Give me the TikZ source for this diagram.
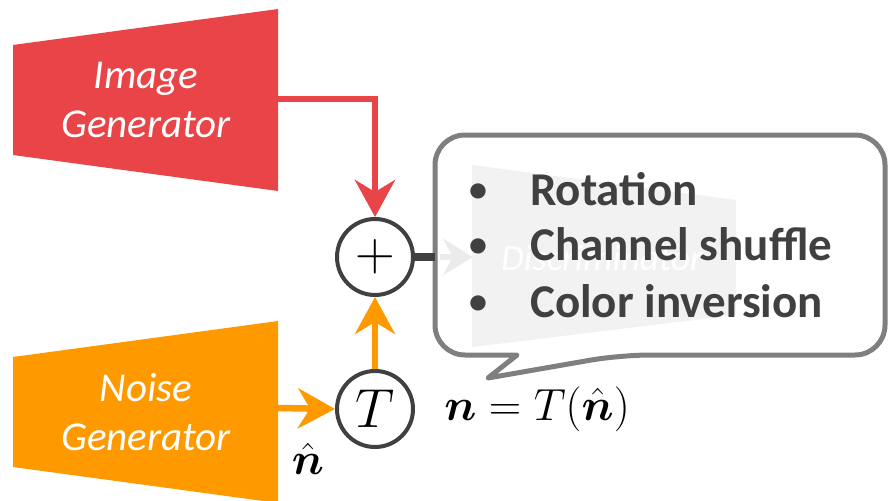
\RequirePackage{fix-cm}
\documentclass[tikz,border=0pt]{standalone}
\usepackage{bm}
\usepackage{fontspec}
\setmainfont{Carlito}
\usetikzlibrary{arrows.meta}

\definecolor{genred}{HTML}{E94549}
\definecolor{genorange}{HTML}{FF9900}
\definecolor{textgray}{HTML}{404040}
\definecolor{calloutgray}{HTML}{7F7F7F}
\definecolor{discgray}{HTML}{F2F2F2}
\definecolor{fadegray}{HTML}{EBEBEB}

\begin{document}
\begin{tikzpicture}[x=1pt,y=-1pt]
        \tikzset{gen label/.style={text=white, align=center, inner sep=0pt,
                     font=\fontsize{41}{49}\selectfont\itshape},
                 op circle/.style={circle, draw=textgray, line width=4pt, fill=white,
                     minimum size=76pt, inner sep=0pt, font=\fontsize{55}{60}\selectfont},
                 flow/.style={line width=6.5pt,
                     -{Stealth[length=37pt, width=40pt, inset=12pt]}},
                 math label/.style={inner sep=0pt, font=\fontsize{45}{50}\selectfont},
                 item/.style={text=textgray, inner sep=0pt, anchor=base west,
                     font=\fontsize{47}{56}\selectfont\bfseries}}
        \useasboundingbox (0,0) rectangle (890,500);

        % generators
        \fill[genred]
            (13,45) -- (278,9) -- (278,191) -- (13,155) -- cycle;
        \node[gen label] (imggen) at (146,100) {Image\\Generator};
        \coordinate (imgout) at (278,99);

        \fill[genorange]
            (13,357) -- (278,321) -- (278,503) -- (13,467) -- cycle;
        \node[gen label] (noisegen) at (146,412) {Noise\\Generator};
        \coordinate (noiseout) at (278,408);

        % faded discriminator behind the callout
        \fill[discgray]
            (472,165) -- (736,200) -- (736,315) -- (472,347) -- cycle;
        \node[gen label, font=\fontsize{37}{44}\selectfont\itshape] (disc) at (602,258) {Discriminator};
        \coordinate (discin) at (440,257);
        \coordinate (discedge) at (473,257);
        \draw[fadegray, line width=6pt, -{Stealth[length=30pt, width=36pt, inset=10pt]}]
            (discin) -- (discedge);

        % operators
        \node[op circle] (plus) at (375,257) {$+$};
        \node[op circle] (tnode) at (375,409) {$T$};

        \draw[flow, draw=genred] (imgout) -| (plus.north);
        \draw[flow, draw=genorange] (noiseout) -- (tnode.west);
        \draw[flow, draw=genorange] (tnode.north) -- (plus.south);

        \node[math label] (nhat) at (308,459) {$\bm{\hat{n}}$};
        \node[math label] (eqlabel) at (537,409) {$\bm{n} = T(\bm{\hat{n}})$};

        % callout with the transforms
        \draw[calloutgray, line width=5pt, line join=round]
            (488,378) -- (517,355) [rounded corners=30pt]
            -- (435,355) -- (435,135) -- (885,135) -- (885,355)
            -- (620,355) [sharp corners] -- cycle;
        \coordinate (calloutin) at (435,257);
        \draw[textgray, line width=7.5pt] (plus.east) -- (calloutin);

        \foreach \ypos/\txt [count=\i] in {205/Rotation, 260/Channel shuffle, 317/Color inversion}{
            \node[item, anchor=base, font=\fontsize{36}{40}\selectfont\bfseries]
                (bullet\i) at (478,\ypos-3.5) {•};
            \node[item] (item\i) at (530,\ypos) {\txt};
        }
    \end{tikzpicture}
\end{document}
